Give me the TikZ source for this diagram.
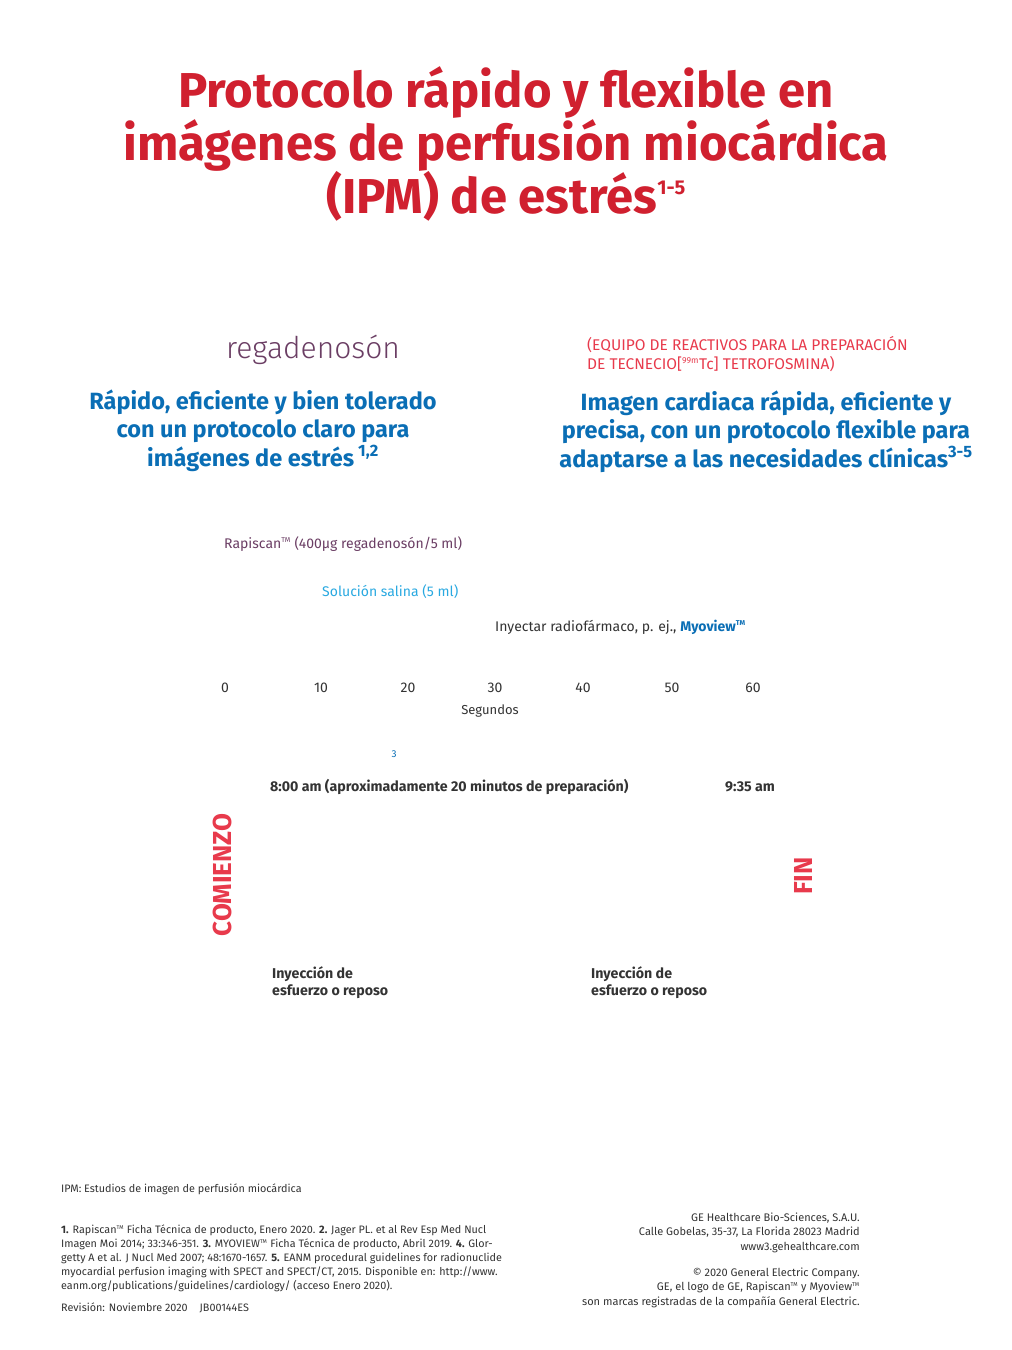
\documentclass[tikz,border=0pt]{standalone}
\usepackage{fontspec}
\setmainfont{Fira Sans}
\newfontfamily\ligera{Fira Sans Light}
\usetikzlibrary{positioning}

\definecolor{rojotit}{HTML}{D0202F}
\definecolor{rojo}{HTML}{E83A4C}
\definecolor{azul}{HTML}{0A6EB5}
\definecolor{celeste}{HTML}{29A9E1}
\definecolor{morado}{HTML}{6B3E64}
\definecolor{gris}{HTML}{333333}

\newcommand{\tm}{\textsuperscript{\scalebox{0.72}{TM}}}
\newcommand{\tam}[2]{\fontsize{#1}{#2}\selectfont}

\begin{document}
\begin{tikzpicture}[x=1pt,y=-1pt,
  every node/.style={inner sep=0pt,text=gris},
  titulo/.style={text=rojotit,font=\bfseries\tam{49}{53},align=center,anchor=base},
  lema/.style={text=azul,font=\bfseries\tam{23.5}{28.5},align=center,anchor=base},
  cifra/.style={font=\tam{14}{17},anchor=base},
  negrita/.style={font=\bfseries\tam{14.2}{17},anchor=base west,align=left},
  vertical/.style={text=rojo,font=\bfseries\tam{26}{30},rotate=90},
  pie/.style={font=\tam{10.8}{13.8},anchor=base west,align=left}]
\fill[white] (0,0) rectangle (1012,1350);
\useasboundingbox (0,0) rectangle (1012,1350);

% titulo (base = ultima linea)
\node[titulo] (titulo) at (506,213) {Protocolo rápido y flexible en\\imágenes de perfusión miocárdica\\(IPM) de estrés\raisebox{19pt}{\tam{20}{20}1-5}};

% columnas
\node[text=morado,font=\ligera\tam{30}{34},anchor=base] (rega) at (313,358) {regadenosón};
\node[lema] (lemaizq) at (263,466) {Rápido, eficiente y bien tolerado\\con un protocolo claro para\\imágenes de estrés\,\textsuperscript{1,2}};
\node[text=rojo,font=\tam{15.5}{19},anchor=base west,align=left] (equipo) at (587,369) {(EQUIPO DE REACTIVOS PARA LA PREPARACIÓN\\DE TECNECIO[\textsuperscript{\scalebox{0.8}{99m}}Tc] TETROFOSMINA)};
\node[lema] (lemader) at (766,467) {Imagen cardiaca rápida, eficiente y\\precisa, con un protocolo flexible para\\adaptarse a las necesidades clínicas\textsuperscript{3-5}};

% tiempos
\node[cifra,text=morado,anchor=base west] (rapiscan) at (224,548) {Rapiscan\tm{} (400µg regadenosón/5 ml)};
\node[cifra,text=celeste,anchor=base west] (salina) at (322,596) {Solución salina (5 ml)};
\node[cifra,anchor=base west] (inyectar) at (495,631) {Inyectar radiofármaco, p. ej., \textcolor{azul}{\bfseries Myoview\tm}};
\foreach \t/\x in {0/225,10/321,20/408,30/495,40/583,50/672,60/753}
  \node[cifra] (s\t) at (\x,692) {\t};
\node[font=\tam{13}{15},anchor=base] (segundos) at (490,714) {Segundos};
\node[text=azul,font=\tam{10}{12},anchor=base] (nota) at (394,757) {3};

% jornada
\node[negrita] (inicio) at (270,791) {8:00 am (aproximadamente 20 minutos de preparación)};
\node[negrita] (final) at (725,791) {9:35 am};
\node[vertical] (comienzo) at (222,875) {COMIENZO};
\node[vertical] (fin) at (803,876) {FIN};
\node[negrita] (iny1) at (272,995) {Inyección de\\esfuerzo o reposo};
\node[negrita] (iny2) at (591,995) {Inyección de\\esfuerzo o reposo};

% pie de pagina
\node[pie] (ipm) at (61,1192) {IPM: Estudios de imagen de perfusión miocárdica};
\node[pie] (refs) at (61,1289) {\textbf{1.} Rapiscan\tm{} Ficha Técnica de producto, Enero 2020. \textbf{2.} Jager PL. et al Rev Esp Med Nucl\\Imagen Moi 2014; 33:346-351. \textbf{3.} MYOVIEW\tm{} Ficha Técnica de producto, Abril 2019. \textbf{4.} Glor-\\getty A et al. J Nucl Med 2007; 48:1670-1657. \textbf{5.} EANM procedural guidelines for radionuclide\\myocardial perfusion imaging with SPECT and SPECT/CT, 2015. Disponible en: http://www.\\eanm.org/publications/guidelines/cardiology/ (acceso Enero 2020).};
\node[pie] (revision) at (61,1311) {Revisión: Noviembre 2020\hspace{12pt}JB00144ES};
\node[pie,font=\tam{11}{14.5},anchor=base east,align=right] (empresa) at (860,1250) {GE Healthcare Bio-Sciences, S.A.U.\\Calle Gobelas, 35-37, La Florida 28023 Madrid\\www3.gehealthcare.com};
\node[pie,font=\tam{11}{14.5},anchor=base east,align=right] (marcas) at (860,1305) {© 2020 General Electric Company.\\GE, el logo de GE, Rapiscan\tm{} y Myoview\tm\\son marcas registradas de la compañía General Electric.};
\end{tikzpicture}
\end{document}
